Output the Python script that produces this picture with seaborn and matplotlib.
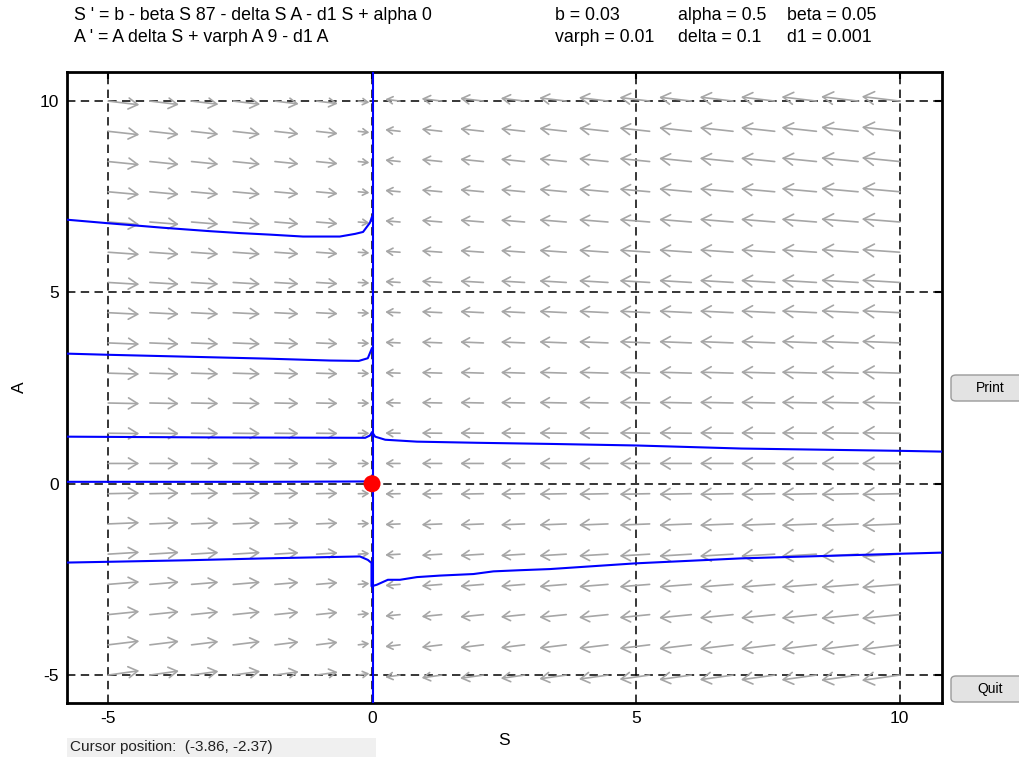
import numpy as np
import pandas as pd
import seaborn as sns
import matplotlib.pyplot as plt
from matplotlib.patches import FancyBboxPatch, Rectangle

sns.set_theme(style='white')
plt.rcParams['font.family'] = ['Liberation Sans', 'DejaVu Sans']
plt.rcParams['axes.unicode_minus'] = False
plt.rcParams['text.color'] = 'black'
plt.rcParams['axes.labelcolor'] = 'black'

ARROW_GRAY = '#a6a6a6'
TRAJ_BLUE = '#0000ff'

# direction field grid (arrow tails) and arrow components
grid_S = [-5.0, -4.21, -3.42, -2.63, -1.84, -1.05, -0.26, 0.53, 1.32, 2.11,
          2.89, 3.68, 4.47, 5.26, 6.05, 6.84, 7.63, 8.42, 9.21, 10.0]
grid_A = [10.0, 9.21, 8.42, 7.63, 6.84, 6.05, 5.26, 4.47, 3.68, 2.89,
          2.11, 1.32, 0.53, -0.26, -1.05, -1.84, -2.63, -3.42, -4.21, -5.0]
# horizontal arrow length per column (S units)
col_dS = [0.59, 0.55, 0.51, 0.51, 0.45, 0.40, 0.21, -0.28, -0.38, -0.44,
          -0.45, -0.51, -0.55, -0.57, -0.61, -0.63, -0.64, -0.66, -0.70, -0.72]
# screen slope of arrows per row (vertical px per horizontal px, + = up for rightward arrow)
row_tilt = [-0.12, -0.11, -0.10, -0.09, -0.08, -0.07, -0.06, -0.05, -0.04, -0.03,
            -0.02, -0.01, 0.0, 0.02, 0.04, 0.06, 0.08, 0.10, 0.12, 0.14]

# trajectories
traj_vert_S = [0.02, 0.02]
traj_vert_A = [-5.73, 10.76]
traj1_S = [-5.78, -5.02, -3.96, -3.07, -2.50, -1.93, -1.31, -0.61, -0.32, -0.17, -0.04, 0.0]
traj1_A = [6.90, 6.81, 6.69, 6.60, 6.55, 6.51, 6.46, 6.46, 6.53, 6.58, 6.82, 6.98]
traj2_S = [-5.78, -5.0, -3.5, -2.0, -0.8, -0.25, -0.08, 0.0]
traj2_A = [3.40, 3.37, 3.32, 3.27, 3.22, 3.21, 3.28, 3.55]
traj3_S = [-5.78, -3.0, -0.13, -0.04, 0.0, 0.06, 0.25, 0.85, 2.0, 3.4, 5.0, 7.0, 10.0, 10.8]
traj3_A = [1.23, 1.21, 1.20, 1.26, 1.35, 1.23, 1.15, 1.10, 1.07, 1.04, 1.00, 0.92, 0.86, 0.84]
traj4_S = [-5.78, -2.0, -0.1, 0.0]
traj4_A = [0.05, 0.05, 0.06, 0.08]
traj5_S = [-5.78, -5.0, -3.5, -2.0, -0.23, -0.08, -0.01, -0.01, 0.09, 0.30, 0.53,
           0.85, 1.29, 1.92, 2.30, 2.80, 3.37, 5.0, 7.0, 10.0, 10.8]
traj5_A = [-2.06, -2.04, -2.00, -1.95, -1.90, -1.99, -2.07, -2.68, -2.64, -2.51, -2.51,
           -2.44, -2.40, -2.36, -2.29, -2.26, -2.23, -2.08, -1.95, -1.83, -1.80]

eq_S = [0.0]
eq_A = [0.0]

ticks = [-5, 0, 5, 10]

trajs = [(traj_vert_S, traj_vert_A), (traj1_S, traj1_A), (traj2_S, traj2_A),
         (traj3_S, traj3_A), (traj4_S, traj4_A), (traj5_S, traj5_A)]
rows = []
for t, (ss, aa) in enumerate(trajs):
    for i, (s, a) in enumerate(zip(ss, aa)):
        rows.append({'traj': t, 'order': i, 'S': s, 'A': a})
df = pd.DataFrame(rows)

fig = plt.figure(figsize=(10.2, 7.58), dpi=100, facecolor='white')
ax = fig.add_axes([67 / 1020, 1 - 703 / 758, 875 / 1020, 631 / 758])
xlim = (-5.78, 10.8)
ylim = (-5.73, 10.76)
ax.set_xlim(*xlim)
ax.set_ylim(*ylim)

# px per data unit, for converting the screen tilt to data units
px_S = 875 / (xlim[1] - xlim[0])
px_A = 631 / (ylim[1] - ylim[0])

ax.grid(True, color='black', linestyle=(0, (5.5, 3.5)), lw=1.1, zorder=1)

for a, tilt in zip(grid_A, row_tilt):
    for s, ds in zip(grid_S, col_dS):
        da = tilt * ds * px_S / px_A
        L = abs(ds) * px_S
        hl = (3.0 + 0.2 * L) * 0.72
        hw = hl * 0.6
        ax.annotate('', xy=(s + ds, a + da), xytext=(s, a),
                    arrowprops=dict(arrowstyle=f'->,head_length={hl:.2f},head_width={hw:.2f}',
                                    mutation_scale=1, color=ARROW_GRAY, lw=1.2,
                                    shrinkA=0, shrinkB=0),
                    zorder=2)

sns.lineplot(data=df, x='S', y='A', units='traj', estimator=None, sort=False,
             color=TRAJ_BLUE, lw=1.5, ax=ax, zorder=3)
sns.scatterplot(x=eq_S, y=eq_A, color='#ff0000', s=150, edgecolor='none', ax=ax, zorder=4)

ax.set_xticks(ticks)
ax.set_yticks(ticks)
ax.tick_params(direction='in', length=5, width=1.5, top=True, right=True,
               labelsize=12.5, pad=6, colors='black')
for sp in ax.spines.values():
    sp.set_color('black')
    sp.set_linewidth(2)
ax.set_xlabel('S', fontsize=12.5, labelpad=5, color='black')
ax.set_ylabel('A', fontsize=12.5, labelpad=9, color='black')

# header texts
fig.text(74 / 1020, 1 - 16 / 758, "S ' = b - beta S 87 - delta S A - d1 S + alpha 0",
         fontsize=12.8, va='center', ha='left', color='black')
fig.text(74 / 1020, 1 - 37 / 758, "A ' = A delta S + varph A 9 - d1 A",
         fontsize=12.8, va='center', ha='left', color='black')
params = [('b = 0.03', 555, 16), ('alpha = 0.5', 678, 16), ('beta = 0.05', 787, 16),
          ('varph = 0.01', 555, 37), ('delta = 0.1', 678, 37), ('d1 = 0.001', 787, 37)]
for txt, px, py in params:
    fig.text(px / 1020, 1 - py / 758, txt, fontsize=12.8, va='center', ha='left', color='black')

# buttons
for label, top in [('Print', 375), ('Quit', 676)]:
    fig.patches.append(FancyBboxPatch((951 / 1020, 1 - (top + 26) / 758), 80 / 1020, 26 / 758,
                                      boxstyle='round,pad=0,rounding_size=0.005',
                                      transform=fig.transFigure, facecolor='#e3e3e3',
                                      edgecolor='#9a9a9a', lw=1))
    fig.text(990 / 1020, 1 - (top + 13) / 758, label, fontsize=10, ha='center', va='center',
             color='black')

# cursor position bar
fig.patches.append(Rectangle((67 / 1020, 1 - 757 / 758), 309 / 1020, 19 / 758,
                             transform=fig.transFigure, facecolor='#f0f0f0', edgecolor='none'))
fig.text(70 / 1020, 1 - 747 / 758, 'Cursor position:  (-3.86, -2.37)', fontsize=11,
         ha='left', va='center', color='#222222')

fig.savefig('out.png', dpi=100, facecolor='white')
